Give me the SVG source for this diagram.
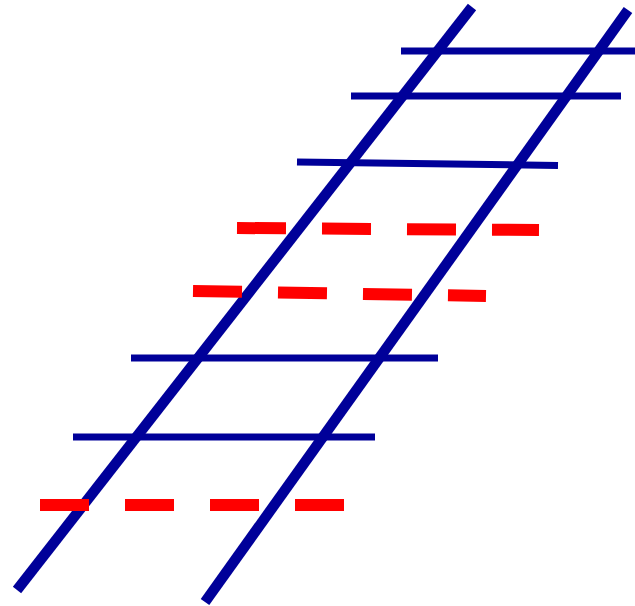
<svg xmlns="http://www.w3.org/2000/svg" width="635" height="606" viewBox="0 0 635 606">
<style>
.rail{stroke:#000099;stroke-width:10.5;fill:none;stroke-linecap:butt}
.tie{stroke:#000099;stroke-width:7;fill:none;stroke-linecap:butt}
.dash{stroke:#ff0000;stroke-width:12;fill:none;stroke-dasharray:49 36;stroke-linecap:butt}
</style>
<rect width="635" height="606" fill="#ffffff"/>
<g id="ties">
<line class="tie" x1="401" y1="51" x2="640" y2="51"/>
<line class="tie" x1="351" y1="96" x2="621" y2="96"/>
<line class="tie" x1="297" y1="162" x2="558" y2="165.5"/>
<line class="tie" x1="131" y1="358" x2="438" y2="358"/>
<line class="tie" x1="73" y1="437" x2="375" y2="437"/>
</g>
<g id="rails">
<line class="rail" x1="472" y1="7" x2="17" y2="590"/>
<line class="rail" x1="628" y1="10" x2="205" y2="602"/>
</g>
<g id="dashed">
<line class="dash" x1="237" y1="228" x2="539" y2="230"/>
<line class="dash" x1="193" y1="291" x2="486" y2="296"/>
<line class="dash" x1="40" y1="505" x2="344" y2="505"/>
</g>
</svg>
